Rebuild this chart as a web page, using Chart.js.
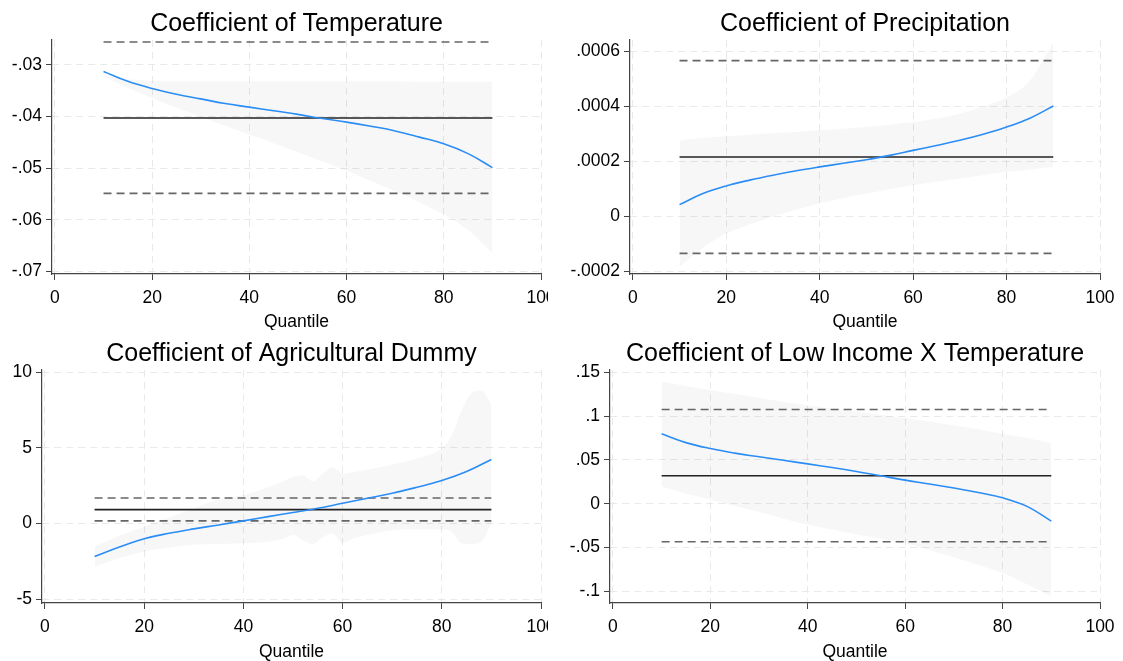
<!DOCTYPE html>
<html>
<head>
<meta charset="utf-8">
<script src="https://cdn.jsdelivr.net/npm/chart.js@4.4.0/dist/chart.umd.min.js"></script>
<style>
html, body { margin: 0; padding: 0; background: #fff; }
.panel { position: absolute; }
</style>
</head>
<body>
<div class="panel" style="left:0;top:0"><canvas id="tempChart" width="548" height="330"></canvas></div>
<div class="panel" style="left:555px;top:0"><canvas id="precChart" width="568" height="330"></canvas></div>
<div class="panel" style="left:0;top:330px"><canvas id="agriChart" width="548" height="331"></canvas></div>
<div class="panel" style="left:555px;top:330px"><canvas id="lowChart" width="568" height="331"></canvas></div>
<script>
// quantiles used for the estimates
const quantiles = [10, 15, 20, 25, 30, 35, 40, 45, 50, 55, 60, 65, 70, 75, 80, 85, 90];
const xTicks = [0, 20, 40, 60, 80, 100];

// Temperature
const tempQr    = [-0.0313, -0.0332, -0.0346, -0.0357, -0.0366, -0.0375, -0.0382, -0.0389, -0.0396, -0.0404, -0.0411, -0.0419, -0.0428, -0.0440, -0.0453, -0.0472, -0.0499];
const tempUpper = [-0.0320, -0.0328, -0.0331, -0.0332, -0.0332, -0.0332, -0.0332, -0.0332, -0.0332, -0.0332, -0.0332, -0.0332, -0.0332, -0.0333, -0.0333, -0.0333, -0.0333];
const tempLower = [-0.0322, -0.0345, -0.0365, -0.0383, -0.0400, -0.0418, -0.0435, -0.0452, -0.0470, -0.0487, -0.0505, -0.0525, -0.0545, -0.0566, -0.0590, -0.0620, -0.0665];
const tempOls = [-0.0403, -0.0256, -0.0549]; // estimate, upper, lower
const tempTicks = [-0.07, -0.06, -0.05, -0.04, -0.03];
const tempTickLabels = ["-.07", "-.06", "-.05", "-.04", "-.03"];

// Precipitation
const precQr    = [0.000042, 0.000082, 0.000110, 0.000131, 0.000149, 0.000165, 0.000179, 0.000192, 0.000205, 0.000221, 0.000239, 0.000257, 0.000276, 0.000298, 0.000324, 0.000356, 0.000400];
const precUpper = [0.000276, 0.000284, 0.000290, 0.000296, 0.000302, 0.000307, 0.000312, 0.000318, 0.000325, 0.000333, 0.000342, 0.000355, 0.000372, 0.000398, 0.000432, 0.000493, 0.000632];
const precLower = [-0.000184, -0.000115, -0.000063, -0.000030, -0.000002, 0.000024, 0.000046, 0.000065, 0.000082, 0.000098, 0.000112, 0.000125, 0.000137, 0.000149, 0.000161, 0.000170, 0.000179];
const precOls = [0.000215, 0.000565, -0.000135];
const precTicks = [-0.0002, 0, 0.0002, 0.0004, 0.0006];
const precTickLabels = ["-.0002", "0", ".0002", ".0004", ".0006"];

// Agricultural dummy
const agriQr = [-2.18, -1.55, -1.00, -0.64, -0.35, -0.09, 0.18, 0.46, 0.73, 1.01, 1.34, 1.67, 2.00, 2.40, 2.84, 3.44, 4.24];
const agriBandQ = [10, 15, 20, 25, 30, 35, 40, 45, 48, 50, 52, 54, 56, 58, 60, 62, 65, 70, 75, 80, 82, 84, 86, 88, 90];
const agriUpper = [-1.5, -0.8, -0.2, 0.4, 1.0, 1.6, 1.9, 2.4, 2.8, 3.1, 3.2, 2.8, 3.3, 3.7, 3.3, 3.4, 3.55, 3.9, 4.3, 5.0, 5.8, 7.5, 8.6, 8.8, 7.9];
const agriLower = [-2.85, -2.3, -1.85, -1.6, -1.4, -1.35, -1.3, -1.2, -1.0, -0.75, -1.1, -1.35, -0.9, -0.65, -1.3, -1.0, -0.75, -0.45, -0.4, -0.4, -0.55, -1.3, -1.35, -1.2, 0.0];
const agriOls = [0.92, 1.69, 0.18];
const agriTicks = [-5, 0, 5, 10];
const agriTickLabels = ["-5", "0", "5", "10"];

// Low income x temperature
const lowQr    = [0.0798, 0.0698, 0.0630, 0.0578, 0.0536, 0.0496, 0.0455, 0.0414, 0.0369, 0.0319, 0.0270, 0.0226, 0.0179, 0.0129, 0.0068, -0.0030, -0.0198];
const lowUpper = [0.1395, 0.1345, 0.1300, 0.1255, 0.1210, 0.1165, 0.1125, 0.1085, 0.1050, 0.1015, 0.0977, 0.0940, 0.0895, 0.0850, 0.0800, 0.0750, 0.0692];
const lowLower = [0.0198, 0.0115, 0.0046, -0.0025, -0.0095, -0.0170, -0.0240, -0.0295, -0.0350, -0.0400, -0.0450, -0.0530, -0.0610, -0.0700, -0.0790, -0.0920, -0.1060];
const lowOls = [0.0319, 0.1076, -0.0433];
const lowTicks = [-0.1, -0.05, 0, 0.05, 0.1, 0.15];
const lowTickLabels = ["-.1", "-.05", "0", ".05", ".1", ".15"];

const FONT = 'Arial, "Liberation Sans", sans-serif';

function pts(xs, ys) {
    return xs.map((x, i) => ({ x: x, y: ys[i] }));
}

function hline(v) {
    return [{ x: quantiles[0], y: v }, { x: quantiles[quantiles.length - 1], y: v }];
}

function makePanel(id, p) {
    const ctx = document.getElementById(id).getContext("2d");
    const canvasH = ctx.canvas.height;
    const canvasW = ctx.canvas.width;
    // dataset 0 is drawn on top, the band last (underneath)
    new Chart(ctx, {
        type: "line",
        data: {
            datasets: [
                { data: pts(quantiles, p.qr), borderColor: "#2a8cf5", borderWidth: 1.6, pointRadius: 0, tension: 0.4 },
                { data: hline(p.ols[0]), borderColor: "#222", borderWidth: 1.6, pointRadius: 0 },
                { data: hline(p.ols[1]), borderColor: "#666", borderWidth: 1.6, borderDash: [8, 5], pointRadius: 0 },
                { data: hline(p.ols[2]), borderColor: "#666", borderWidth: 1.6, borderDash: [8, 5], pointRadius: 0 },
                { data: pts(p.bandQ, p.upper), borderWidth: 0, pointRadius: 0, fill: "+1", backgroundColor: "rgba(0,0,0,0.03)", cubicInterpolationMode: "monotone" },
                { data: pts(p.bandQ, p.lower), borderWidth: 0, pointRadius: 0, fill: false, cubicInterpolationMode: "monotone" }
            ]
        },
        options: {
            responsive: false,
            animation: false,
            devicePixelRatio: 1,
            layout: { autoPadding: false, padding: { left: 0, right: canvasW - p.right, top: 0, bottom: 0 } },
            plugins: {
                legend: { display: false },
                tooltip: { enabled: false },
                title: {
                    display: true,
                    fullSize: false,
                    text: p.title,
                    color: "#000",
                    font: { family: FONT, size: 25, weight: "normal" },
                    padding: { top: 9, bottom: 1 }
                }
            },
            scales: {
                x: {
                    type: "linear",
                    min: -0.6,
                    max: 100,
                    afterBuildTicks: s => { s.ticks = xTicks.map(v => ({ value: v })); },
                    afterFit: s => { s.height = canvasH - p.bottom; s.paddingLeft = 0; s.paddingRight = 0; },
                    ticks: { color: "#000", font: { family: FONT, size: 17.5 }, padding: 8, maxRotation: 0, autoSkip: false },
                    title: { display: true, text: "Quantile", color: "#000", font: { family: FONT, size: 17.5 }, padding: { top: 0, bottom: p.titlePad } },
                    grid: { color: "#e9e9e9", lineWidth: 1, tickColor: "#444", tickLength: 6, tickWidth: 1, tickBorderDash: [] },
                    border: { color: "#444", width: 1.2, dash: [7, 5] }
                },
                y: {
                    type: "linear",
                    min: p.yMin,
                    max: p.yMax,
                    afterBuildTicks: s => { s.ticks = p.ticks.map(v => ({ value: v })); },
                    afterFit: s => { s.width = p.left; s.paddingTop = 0; s.paddingBottom = 0; },
                    ticks: {
                        color: "#000",
                        font: { family: FONT, size: 17.5 },
                        padding: 4,
                        autoSkip: false,
                        callback: (v, i) => p.labels[i]
                    },
                    grid: { color: "#e9e9e9", lineWidth: 1, tickColor: "#444", tickLength: 6, tickWidth: 1, tickBorderDash: [] },
                    border: { color: "#444", width: 1.2, dash: [7, 5] }
                }
            }
        }
    });
}

makePanel("tempChart", {
    title: "Coefficient of Temperature", left: 52, right: 541, bottom: 274, titlePad: -2.5,
    yMin: -0.0705, yMax: -0.0252, ticks: tempTicks, labels: tempTickLabels,
    bandQ: quantiles, upper: tempUpper, lower: tempLower, qr: tempQr, ols: tempOls
});
makePanel("precChart", {
    title: "Coefficient of Precipitation", left: 75, right: 545, bottom: 274, titlePad: -2.5,
    yMin: -0.00021, yMax: 0.00064, ticks: precTicks, labels: precTickLabels,
    bandQ: quantiles, upper: precUpper, lower: precLower, qr: precQr, ols: precOls
});
makePanel("agriChart", {
    title: "Coefficient of Agricultural Dummy", left: 42, right: 541, bottom: 273, titlePad: -2,
    yMin: -5.25, yMax: 10.15, ticks: agriTicks, labels: agriTickLabels,
    bandQ: agriBandQ, upper: agriUpper, lower: agriLower, qr: agriQr, ols: agriOls
});
makePanel("lowChart", {
    title: "Coefficient of Low Income X Temperature", left: 55, right: 545, bottom: 273, titlePad: -2,
    yMin: -0.1133, yMax: 0.1527, ticks: lowTicks, labels: lowTickLabels,
    bandQ: quantiles, upper: lowUpper, lower: lowLower, qr: lowQr, ols: lowOls
});
</script>
</body>
</html>
